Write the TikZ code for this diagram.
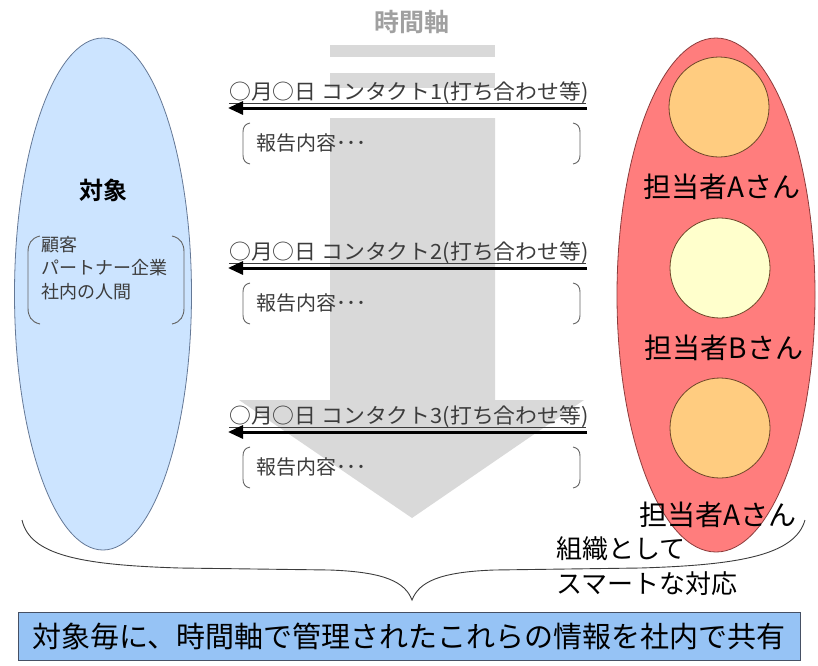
\documentclass[tikz,border=0pt]{standalone}
\usepackage{fontspec}
\setmainfont{Noto Sans CJK JP}[BoldFont={Noto Sans CJK JP Bold}]
\usetikzlibrary{arrows.meta,shapes.geometric}
\definecolor{axisgray}{RGB}{217,217,217}
\definecolor{axistext}{RGB}{160,160,160}
\definecolor{bluefill}{RGB}{204,228,255}
\definecolor{blueline}{RGB}{100,120,150}
\definecolor{redfill}{RGB}{255,125,125}
\definecolor{redline}{RGB}{140,60,60}
\definecolor{orangefill}{RGB}{255,204,128}
\definecolor{paleyellow}{RGB}{255,255,204}
\definecolor{circline}{RGB}{110,70,40}
\definecolor{boxfill}{RGB}{150,195,245}
\definecolor{boxline}{RGB}{70,80,100}
\definecolor{darktext}{RGB}{60,60,60}
\definecolor{brk}{RGB}{100,100,100}
\newcommand{\fsz}[1]{\fontsize{#1pt}{#1pt}\selectfont}
\begin{document}
\begin{tikzpicture}[x=1pt,y=-1pt,
  person/.style={ellipse,draw=circline,line width=0.8pt,minimum width=100pt,minimum height=100pt,inner sep=0pt},
  pname/.style={font=\fsz{28},text=black,inner sep=0pt},
  contact/.style={font=\fsz{21},anchor=base west,inner sep=0pt,text=darktext},
  report/.style={font=\fsz{20},anchor=west,inner sep=0pt,text=darktext},
  carrow/.style={line width=3pt,-{Triangle[length=15pt,width=13pt]}},
  uline/.style={line width=0.7pt,darktext},
  bracket/.style={line width=0.9pt,brk},
  smalltext/.style={font=\fsz{18},anchor=west,inner sep=0pt,text=darktext},
  orgtext/.style={font=\fsz{26},anchor=west,inner sep=0pt}
]
\useasboundingbox (0,0) rectangle (818,665);
% time axis
\fill[axisgray] (330,45) rectangle (495,57);
\fill[axisgray] (330,73) rectangle (495,88);
\fill[axisgray] (330,118) -- (495,118) -- (495,400) -- (584,400) -- (412,518) -- (239,400) -- (330,400) -- cycle;
\node[font=\fsz{25}\bfseries,text=axistext,inner sep=0pt] (axis) at (412,22) {時間軸};
% target ellipse
\node[ellipse,draw=blueline,line width=0.8pt,fill=bluefill,minimum width=177pt,minimum height=512pt,inner sep=0pt] (target) at (103,294) {};
\node[font=\fsz{24}\bfseries,inner sep=0pt] (targetlbl) at (103,190) {対象};
\node[smalltext] (t1) at (41,245) {顧客};
\node[smalltext] (t2) at (41,268) {パートナー企業};
\node[smalltext] (t3) at (41,292) {社内の人間};
\draw[bracket] (40,236) .. controls (31,238) and (28,244) .. (28,252) -- (28,308) .. controls (28,316) and (31,322) .. (40,324);
\draw[bracket] (172,236) .. controls (181,238) and (184,244) .. (184,252) -- (184,308) .. controls (184,316) and (181,322) .. (172,324);
% staff ellipse
\node[ellipse,draw=redline,line width=0.8pt,fill=redfill,minimum width=198pt,minimum height=514pt,inner sep=0pt] (staff) at (716,295) {};
\node[person,fill=orangefill] (pa1) at (719,107) {};
\node[pname] (pa1lbl) at (722,187) {担当者Aさん};
\node[person,fill=paleyellow] (pb) at (720,268) {};
\node[pname] (pblbl) at (724,348) {担当者Bさん};
\node[person,fill=orangefill] (pa2) at (720,428) {};
\node[pname] (pa2lbl) at (718,515) {担当者Aさん};
% contacts
\foreach \i/\y in {1/107,2/267,3/431}{
  \node[contact] (c\i) at (229,\y-8) {\scalebox{1.04}[1]{○月○日 コンタクト\i(打ち合わせ等)}};
  \coordinate (s\i) at (587,\y+1);
  \coordinate (e\i) at (228,\y+1);
  \draw[uline] (229,\y-4) -- (586,\y-4);
  \draw[carrow] (s\i) -- (e\i);
  \node[report] (r\i) at (256,\y+36) {報告内容･･･};
  \draw[bracket] (250,\y+16) .. controls (245,\y+17) and (243,\y+20) .. (243,\y+25) -- (243,\y+48) .. controls (243,\y+53) and (245,\y+56) .. (250,\y+57);
  \draw[bracket] (573,\y+16) .. controls (578,\y+17) and (580,\y+20) .. (580,\y+25) -- (580,\y+48) .. controls (580,\y+53) and (578,\y+56) .. (573,\y+57);
}
% brace
\draw[line width=0.9pt,darktext] (22,520) .. controls (30,555) and (80,565) .. (180,568) -- (330,570) .. controls (385,572) and (405,582) .. (412,600) .. controls (419,582) and (439,572) .. (494,570) -- (640,568) .. controls (740,565) and (795,555) .. (805,520);
\node[orgtext] (org1) at (556,549) {組織として};
\node[orgtext] (org2) at (556,584) {スマートな対応};
% bottom box
\node[draw=boxline,line width=0.9pt,fill=boxfill,minimum width=782pt,minimum height=48pt,inner sep=0pt,font=\fsz{29}] (share) at (409,636) {対象毎に、時間軸で管理されたこれらの情報を社内で共有};
\end{tikzpicture}
\end{document}
